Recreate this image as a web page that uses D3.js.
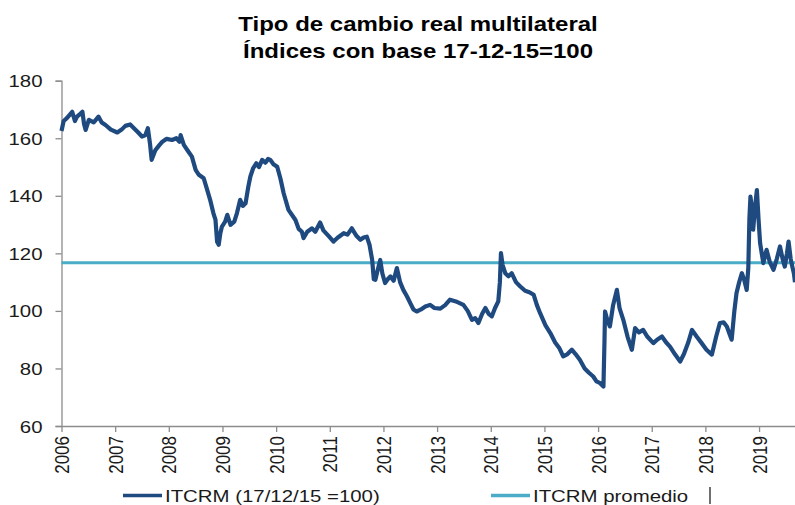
<!DOCTYPE html>
<html>
<head>
<meta charset="utf-8">
<script src="https://cdn.jsdelivr.net/npm/d3@7"></script>
<style>
  body { margin: 0; background: #fff; }
  svg { display: block; font-family: Arial, "Liberation Sans", sans-serif; }
</style>
</head>
<body>
<svg id="chart" width="795" height="505"></svg>
<script>
// ITCRM, indice 17-12-15 = 100 (fecha en anos decimales)
const itcrmYears = [
  2006.00, 2006.04, 2006.10, 2006.20, 2006.25, 2006.29, 2006.35, 2006.39, 2006.42, 2006.45,
  2006.51, 2006.60, 2006.69, 2006.75, 2006.82, 2006.92, 2007.04, 2007.12, 2007.19, 2007.28,
  2007.35, 2007.43, 2007.50, 2007.56, 2007.61, 2007.65, 2007.68, 2007.75, 2007.82, 2007.88,
  2007.96, 2008.06, 2008.14, 2008.20, 2008.22, 2008.28, 2008.36, 2008.43, 2008.50, 2008.56,
  2008.65, 2008.70, 2008.77, 2008.83, 2008.87, 2008.90, 2008.93, 2008.96, 2008.99, 2009.05,
  2009.09, 2009.15, 2009.22, 2009.27, 2009.33, 2009.38, 2009.43, 2009.48, 2009.52, 2009.57,
  2009.63, 2009.68, 2009.74, 2009.80, 2009.85, 2009.89, 2009.95, 2010.02, 2010.08, 2010.14,
  2010.23, 2010.29, 2010.36, 2010.42, 2010.48, 2010.51, 2010.58, 2010.67, 2010.73, 2010.82,
  2010.88, 2010.98, 2011.07, 2011.15, 2011.26, 2011.33, 2011.41, 2011.50, 2011.57, 2011.63,
  2011.69, 2011.74, 2011.79, 2011.82, 2011.85, 2011.89, 2011.94, 2011.98, 2012.03, 2012.08,
  2012.13, 2012.19, 2012.25, 2012.31, 2012.37, 2012.44, 2012.50, 2012.56, 2012.62, 2012.70,
  2012.78, 2012.87, 2012.95, 2013.06, 2013.15, 2013.24, 2013.35, 2013.49, 2013.57, 2013.65,
  2013.71, 2013.77, 2013.84, 2013.90, 2013.96, 2014.02, 2014.08, 2014.14, 2014.17, 2014.19,
  2014.22, 2014.27, 2014.33, 2014.39, 2014.47, 2014.55, 2014.64, 2014.72, 2014.80, 2014.86,
  2014.92, 2015.02, 2015.11, 2015.20, 2015.28, 2015.35, 2015.43, 2015.51, 2015.58, 2015.66,
  2015.75, 2015.83, 2015.91, 2015.97, 2016.03, 2016.10, 2016.12, 2016.13, 2016.17, 2016.22,
  2016.28, 2016.35, 2016.40, 2016.47, 2016.55, 2016.63, 2016.69, 2016.76, 2016.84, 2016.92,
  2017.03, 2017.10, 2017.19, 2017.27, 2017.34, 2017.43, 2017.53, 2017.60, 2017.68, 2017.75,
  2017.84, 2017.93, 2018.02, 2018.12, 2018.20, 2018.27, 2018.34, 2018.40, 2018.45, 2018.49,
  2018.54, 2018.58, 2018.63, 2018.68, 2018.72, 2018.77, 2018.80, 2018.82, 2018.84, 2018.87,
  2018.89, 2018.93, 2018.96, 2018.99, 2019.02, 2019.05, 2019.08, 2019.11, 2019.14, 2019.20,
  2019.27, 2019.33, 2019.39, 2019.44, 2019.48, 2019.52, 2019.55, 2019.59, 2019.62, 2019.65,
  2019.67
];
const itcrmValues = [
  162.5, 166.0, 167.0, 169.2, 166.0, 167.5, 168.5, 169.2, 165.0, 162.9,
  166.4, 165.5, 167.5, 165.5, 164.6, 163.0, 162.0, 163.0, 164.3, 164.8,
  163.5, 162.0, 160.6, 161.0, 163.5, 158.0, 152.5, 155.9, 157.5, 158.8,
  159.8, 159.4, 160.0, 158.8, 161.1, 157.7, 155.5, 153.6, 149.0, 147.3,
  146.1, 143.0, 138.6, 134.0, 131.6, 124.0, 123.0, 127.0, 129.3, 131.0,
  133.4, 129.9, 131.0, 134.0, 138.6, 136.5, 137.4, 143.0, 146.7, 149.5,
  151.3, 150.0, 152.5, 151.5, 152.8, 152.5, 151.0, 150.1, 146.0, 140.9,
  135.1, 133.5, 131.6, 128.5, 127.5, 125.3, 127.5, 128.7, 127.5, 130.7,
  128.0, 126.0, 124.1, 125.5, 127.0, 126.5, 128.7, 126.0, 124.7, 125.5,
  125.8, 123.0, 117.7, 111.0, 110.8, 114.0, 117.7, 113.0, 109.7, 111.0,
  112.0, 110.5, 114.9, 110.0, 107.3, 105.0, 102.7, 100.5, 99.8, 100.5,
  101.5, 102.1, 101.0, 100.8, 102.0, 103.9, 103.3, 102.1, 100.0, 96.9,
  97.5, 95.8, 99.0, 101.0, 99.0, 98.1, 101.0, 103.3, 110.0, 120.1,
  116.0, 113.1, 112.0, 113.1, 110.0, 108.5, 107.0, 106.5, 105.6, 102.0,
  99.2, 95.0, 92.3, 89.0, 87.0, 84.2, 85.0, 86.5, 85.0, 83.0,
  80.0, 78.5, 77.2, 75.5, 75.0, 73.7, 90.0, 99.8, 97.0, 94.6,
  102.0, 107.3, 101.0, 96.9, 91.0, 86.5, 94.0, 92.5, 93.4, 91.0,
  88.8, 90.0, 91.1, 89.0, 87.6, 85.0, 82.4, 85.0, 89.0, 93.4,
  91.0, 88.8, 86.5, 84.8, 91.0, 95.8, 96.0, 94.6, 92.0, 90.0,
  100.0, 106.2, 110.0, 113.1, 111.0, 107.3, 115.0, 132.0, 139.7, 135.0,
  128.2, 137.0, 142.0, 132.0, 123.5, 120.0, 116.6, 119.0, 121.2, 117.0,
  114.3, 118.0, 122.4, 118.0, 115.4, 120.0, 124.1, 118.0, 115.4, 113.0,
  110.0
];
const promedioValue = 116.7;
const yTicks = [60, 80, 100, 120, 140, 160, 180];
const yearTicks = [2006, 2007, 2008, 2009, 2010, 2011, 2012, 2013, 2014, 2015, 2016, 2017, 2018, 2019];
const titleLines = ['Tipo de cambio real multilateral', 'Índices con base 17-12-15=100'];
const legendItems = [
  { label: 'ITCRM (17/12/15 =100)', color: '#1f4a80', x: 123 },
  { label: 'ITCRM promedio', color: '#4aacc6', x: 491 }
];

const STRETCH = 1.2;   // texto ensanchado como en el original
const axisColor = '#8c8c8c';
const textColor = '#1a1a1a';

const svg = d3.select('#chart');
const x = d3.scaleLinear().domain([2006, 2019.67]).range([61.5, 795]);
const y = d3.scaleLinear().domain([60, 180]).range([426, 80.7]);

const series = itcrmYears.map((t, i) => ({ t, v: itcrmValues[i] }));

// titulo
svg.selectAll('.title')
  .data(titleLines)
  .join('text')
  .attr('class', 'title')
  .attr('transform', (d, i) => `translate(418,${31 + i * 27}) scale(${STRETCH},1)`)
  .attr('text-anchor', 'middle')
  .attr('font-size', 20)
  .attr('font-weight', 'bold')
  .attr('fill', '#000')
  .text(d => d);

// eje Y
const gy = svg.append('g')
  .attr('transform', `translate(${x.range()[0]},0)`)
  .call(d3.axisLeft(y).tickValues(yTicks).tickSize(6).tickPadding(0));
gy.select('.domain').attr('stroke', axisColor).attr('stroke-width', 1.3);
gy.selectAll('.tick line').attr('stroke', axisColor).attr('stroke-width', 1.3);
gy.selectAll('.tick text')
  .attr('x', null)
  .attr('dy', null)
  .attr('transform', `translate(-19,6) scale(${STRETCH},1)`)
  .attr('text-anchor', 'end')
  .attr('font-size', 17)
  .attr('font-family', 'Arial, "Liberation Sans", sans-serif')
  .attr('fill', textColor);

// eje X
const gx = svg.append('g')
  .attr('transform', `translate(0,${y(60)})`)
  .call(d3.axisBottom(x).tickValues(yearTicks).tickFormat(d3.format('d')).tickSize(6).tickSizeOuter(0));
gx.select('.domain').attr('stroke', axisColor).attr('stroke-width', 1.3);
gx.selectAll('.tick line').attr('stroke', axisColor).attr('stroke-width', 1.3);
gx.selectAll('.tick text')
  .attr('y', null)
  .attr('dy', null)
  .attr('transform', `translate(7,10) scale(${STRETCH},1) rotate(-90)`)
  .attr('text-anchor', 'end')
  .attr('font-size', 17)
  .attr('font-family', 'Arial, "Liberation Sans", sans-serif')
  .attr('fill', textColor);

// linea promedio
svg.append('path')
  .datum(x.domain())
  .attr('fill', 'none')
  .attr('stroke', legendItems[1].color)
  .attr('stroke-width', 3)
  .attr('d', d3.line().x(d => x(d)).y(() => y(promedioValue)));

// serie ITCRM
svg.append('path')
  .datum(series)
  .attr('fill', 'none')
  .attr('stroke', legendItems[0].color)
  .attr('stroke-width', 4.2)
  .attr('stroke-linejoin', 'round')
  .attr('d', d3.line().x(d => x(d.t)).y(d => y(d.v)));

// leyenda
const lg = svg.selectAll('.lg')
  .data(legendItems)
  .join('g')
  .attr('class', 'lg')
  .attr('transform', d => `translate(${d.x},495.5)`);
lg.append('line')
  .attr('x1', 0).attr('x2', 39)
  .attr('stroke', d => d.color)
  .attr('stroke-width', 3.4);
lg.append('text')
  .attr('transform', `translate(42,6) scale(${STRETCH},1)`)
  .attr('font-size', 17)
  .attr('fill', textColor)
  .text(d => d.label);

// marca vertical tras la segunda entrada
svg.append('line')
  .attr('x1', 710).attr('x2', 710)
  .attr('y1', 487).attr('y2', 504)
  .attr('stroke', '#222')
  .attr('stroke-width', 1.3);
</script>
</body>
</html>
